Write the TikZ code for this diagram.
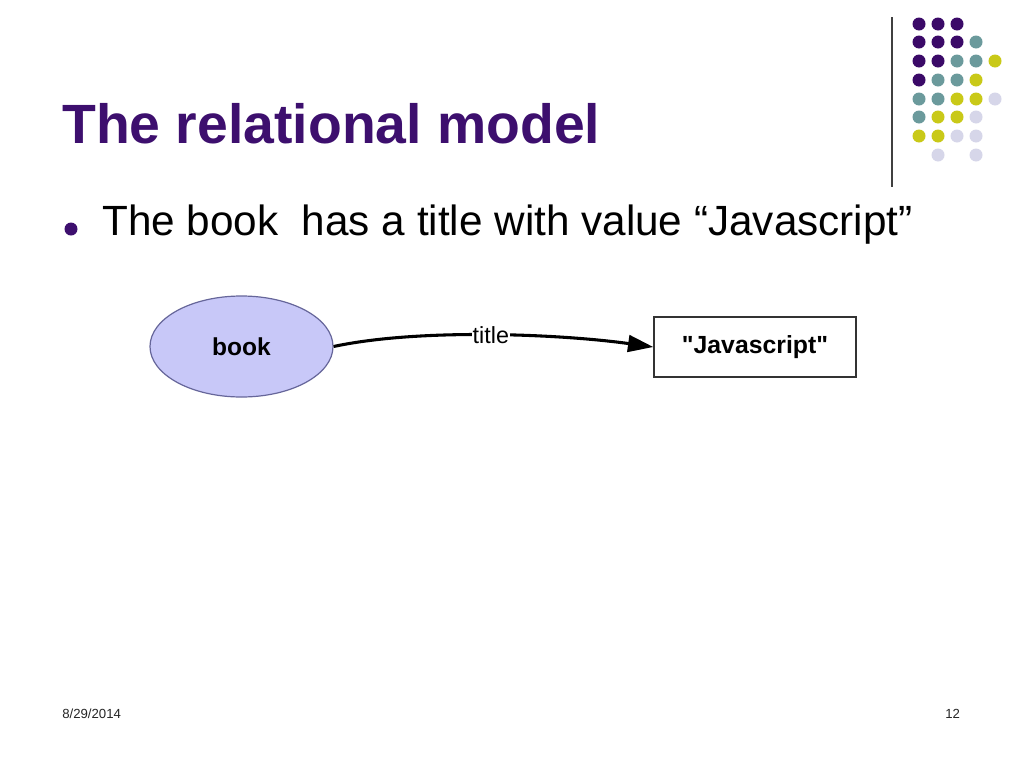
\documentclass[tikz,border=0pt]{standalone}
\usepackage{fontspec}
\setmainfont{Liberation Sans}
\usetikzlibrary{shapes.geometric,arrows.meta}
\definecolor{titlepurple}{HTML}{3D0F6E}
\definecolor{dotpurple}{HTML}{3B0A68}
\definecolor{dotteal}{HTML}{6B9A9C}
\definecolor{dotyellow}{HTML}{C9C918}
\definecolor{dotlav}{HTML}{D6D6E9}
\definecolor{ellfill}{HTML}{C8C8F8}
\definecolor{ellline}{HTML}{66669A}
\tikzset{
  dot/.style={circle,inner sep=0pt,minimum size=9.75pt},
  titletext/.style={anchor=base west,inner sep=0pt,text=titlepurple,font=\fontsize{41.5}{48}\selectfont\bfseries},
  bullettext/.style={anchor=base west,inner sep=0pt,font=\fontsize{31.7}{38}\selectfont},
  footer/.style={anchor=base west,inner sep=0pt,text=black!85,font=\fontsize{9.9}{12}\selectfont},
  entity/.style={ellipse,draw=ellline,line width=0.9pt,fill=ellfill,minimum width=137.25pt,minimum height=75.75pt,inner sep=0pt,font=\fontsize{18.4}{22}\selectfont\bfseries},
  literal/.style={rectangle,draw=black!80,line width=1pt,fill=white,minimum width=151.5pt,minimum height=45pt,inner sep=0pt,font=\fontsize{18.6}{22}\selectfont\bfseries\addfontfeature{Ligatures=TeXOff}},
  rel/.style={line width=2.3pt,-{Triangle[length=19pt,width=12.5pt]}},
  rellabel/.style={fill=white,inner sep=0.6pt,font=\fontsize{17.5}{21}\selectfont}
}
\begin{document}
\begin{tikzpicture}[x=0.75pt,y=-0.75pt]
\useasboundingbox[fill=white] (0,0) rectangle (1024,768);
% decorative dot grid
\foreach \c/\x/\y in {
 dotpurple/919/24, dotpurple/938/24, dotpurple/957/24,
 dotpurple/919/42, dotpurple/938/42, dotpurple/957/42, dotteal/976/42,
 dotpurple/919/61, dotpurple/938/61, dotteal/957/61, dotteal/976/61, dotyellow/995/61,
 dotpurple/919/80, dotteal/938/80, dotteal/957/80, dotyellow/976/80,
 dotteal/919/99, dotteal/938/99, dotyellow/957/99, dotyellow/976/99, dotlav/995/99,
 dotteal/919/117, dotyellow/938/117, dotyellow/957/117, dotlav/976/117,
 dotyellow/919/136, dotyellow/938/136, dotlav/957/136, dotlav/976/136,
 dotlav/938/155, dotlav/976/155}
 { \node[dot,fill=\c] at (\x,\y) {}; }
\coordinate (vtop) at (892,17);
\coordinate (vbot) at (892,187);
\draw[line width=1.1pt,black!75] (vtop) -- (vbot);
% title and bullet
\node[titletext] (title) at (62,143) {The relational model};
\node[circle,inner sep=0pt,minimum size=9.75pt,fill=titlepurple] (bul) at (71,229) {};
\node[bullettext] (btext) at (102,235) {The book\ \ has a title with value “Javascript”};
% diagram
\node[entity] (book) at (241.5,346.5) {book};
\node[literal] (js) at (755,347) {"Javascript"};
\draw[rel] (book.east) .. controls (420,328) and (560,334) .. (js.west)
  node[pos=0.5,rellabel] (lab) {title};
% footer
\node[footer] (date) at (62,718) {8/29/2014};
\node[footer] (page) at (945,718) {12};
\end{tikzpicture}
\end{document}
